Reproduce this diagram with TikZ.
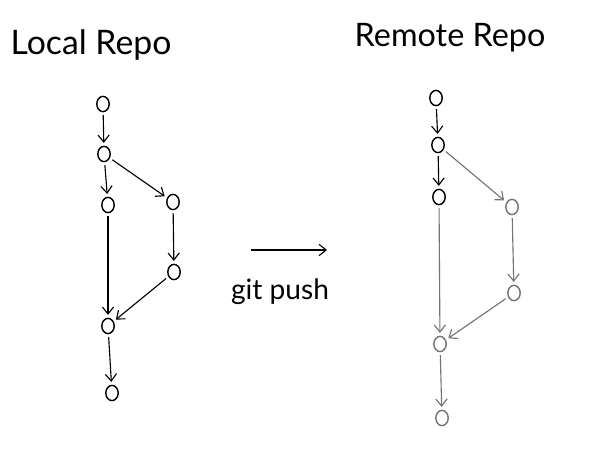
\documentclass[tikz,border=0pt]{standalone}
\usepackage{fontspec}
\setmainfont{Lato}
\usetikzlibrary{arrows.meta,shapes.geometric}

\begin{document}
\begin{tikzpicture}[x=0.025cm,y=-0.025cm,
    commit/.style={ellipse,draw,line width=1pt,minimum width=0.31cm,minimum height=0.38cm,inner sep=0pt},
    pushed/.style={commit,draw=black!55},
    link/.style={-{Straight Barb[length=5pt,width=8pt]},line width=0.8pt,shorten >=2pt,shorten <=2pt},
    greylink/.style={link,draw=black!55},
    title/.style={font=\fontsize{24}{28}\selectfont}]

    \useasboundingbox (0,0) rectangle (593,453);

    % Titles
    \node[title] (tlocal) at (91,45) {Local Repo};
    \node[title,font=\fontsize{23}{28}\selectfont] (tremote) at (450,38) {Remote Repo};

    % Local commits
    \node[commit] (l1) at (103,104) {};
    \node[commit] (l2) at (104,154) {};
    \node[commit] (l3) at (108,205) {};
    \node[commit] (l4) at (173,202) {};
    \node[commit] (l5) at (174,272) {};
    \node[commit] (l6) at (108,326) {};
    \node[commit] (l7) at (112,393) {};

    % Local history
    \draw[link] (l1) -- (l2);
    \draw[link] (l2) -- (l3);
    \draw[link] (l2) -- (l4);
    \draw[link] (l4) -- (l5);
    \draw[link] (l3) -- (l6);
    \draw[link] (l5) -- (l6);
    \draw[link] (l6) -- (l7);

    % Push arrow
    \coordinate (pa) at (251,250);
    \coordinate (pb) at (327,250);
    \draw[link,shorten <=0pt,shorten >=0pt] (pa) -- (pb);
    \node[font=\fontsize{20}{24}\selectfont] (push) at (280,292) {git push};

    % Remote commits (grey ones are new)
    \node[commit] (r1) at (436,98) {};
    \node[commit] (r2) at (438,145) {};
    \node[commit] (r3) at (439,197) {};
    \node[pushed] (r4) at (512,207) {};
    \node[pushed] (r5) at (514,293) {};
    \node[pushed] (r6) at (440,344) {};
    \node[pushed] (r7) at (442,418) {};

    % Remote history
    \draw[link] (r1) -- (r2);
    \draw[link] (r2) -- (r3);
    \draw[greylink] (r2) -- (r4);
    \draw[greylink] (r4) -- (r5);
    \draw[greylink] (r3) -- (r6);
    \draw[greylink] (r5) -- (r6);
    \draw[greylink] (r6) -- (r7);

\end{tikzpicture}
\end{document}
